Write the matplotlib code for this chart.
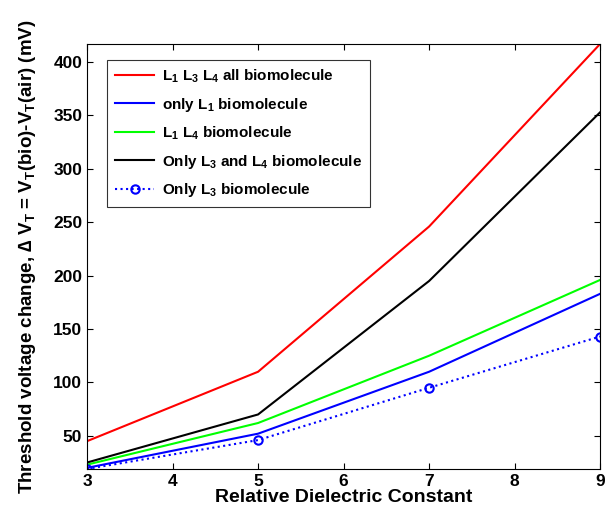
import matplotlib
matplotlib.use("Agg")
import matplotlib.pyplot as plt
import numpy as np

plt.rcParams['font.family'] = ['Liberation Sans', 'DejaVu Sans']
plt.rcParams['font.weight'] = 'bold'
plt.rcParams['mathtext.fontset'] = 'custom'
plt.rcParams['mathtext.bf'] = 'Liberation Sans:bold'
plt.rcParams['mathtext.rm'] = 'Liberation Sans:bold'
plt.rcParams['mathtext.default'] = 'bf'

# data
eps = [3, 5, 7, 9]
all_bio = [45, 110, 246, 417]
only_l1 = [20, 52, 110, 183]
l1_l4 = [23, 62, 125, 196]
l3_l4 = [25, 70, 195, 353]
only_l3 = [19, 46, 95, 143]

fig = plt.figure(figsize=(6.13, 5.17), dpi=100)
ax = fig.add_axes([0.142, 0.093, 0.837, 0.822])

ax.plot(eps, all_bio, color='#ff0000', lw=1.5, label='L$_1$ L$_3$ L$_4$ all biomolecule')
ax.plot(eps, only_l1, color='#0000ff', lw=1.5, label='only L$_1$ biomolecule')
ax.plot(eps, l1_l4, color='#00ff00', lw=1.5, label='L$_1$ L$_4$ biomolecule')
ax.plot(eps, l3_l4, color='k', lw=1.5, label='Only L$_3$ and L$_4$ biomolecule')
ax.plot(eps, only_l3, color='#0000ff', lw=1.5, ls=':', marker='o', ms=6,
        mfc='none', mew=1.5, label='Only L$_3$ biomolecule')

ax.set_xlim(3, 9)
ax.set_ylim(19, 417)
ax.set_xticks(range(3, 10))
ax.set_yticks(range(50, 401, 50))
ax.tick_params(direction='in', top=True, right=True, labelsize=12.5, length=4)
ax.set_xlabel('Relative Dielectric Constant', fontsize=14, fontweight='bold', labelpad=0)
ax.set_ylabel('Threshold voltage change, \u2206 V$_T$ = V$_T$(bio)-V$_T$(air) (mV)',
              fontsize=13.5, fontweight='bold', labelpad=11)

leg = ax.legend(loc='upper left', bbox_to_anchor=(0.039, 0.962), borderaxespad=0,
                fontsize=11, fancybox=False, edgecolor='k', handlelength=2.6,
                borderpad=0.5, labelspacing=0.7, handletextpad=0.5)
leg.get_frame().set_linewidth(0.8)

fig.savefig('out.png', dpi=100)
